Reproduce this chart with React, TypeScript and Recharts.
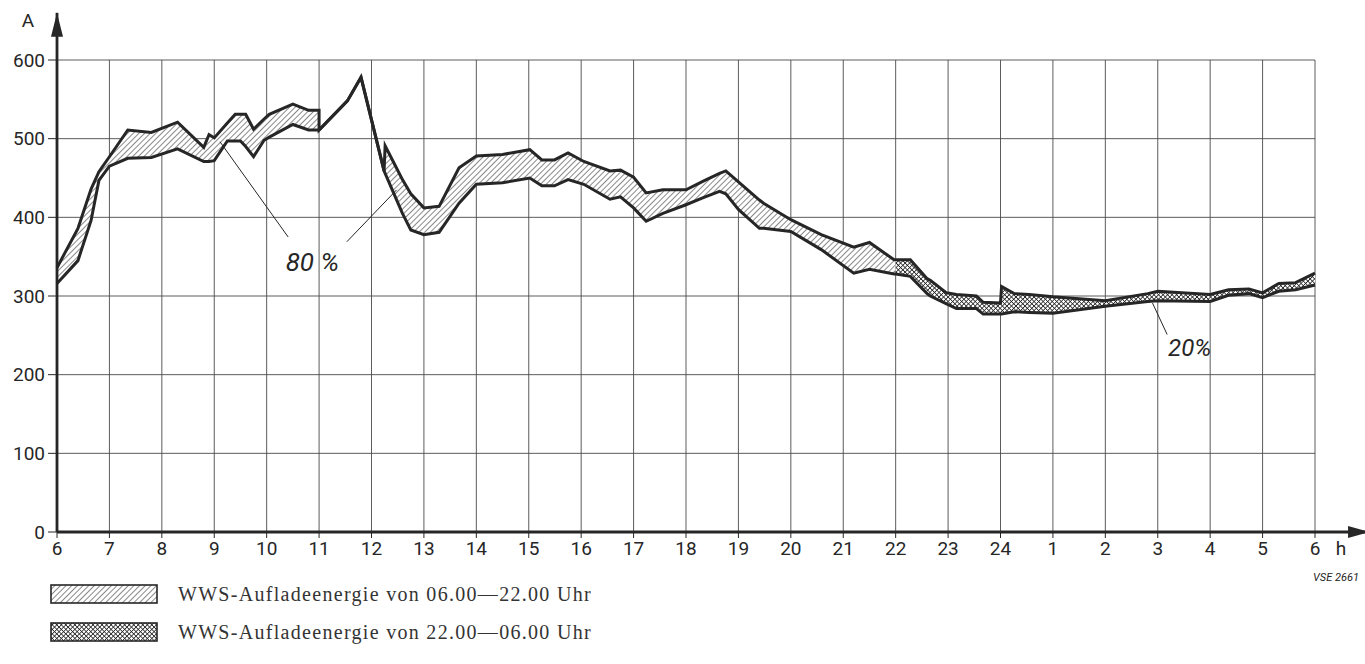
import React from "react";
import { Area, CartesianGrid, ComposedChart, Line, ReferenceDot, ReferenceLine, XAxis, YAxis } from "recharts";

// hours since 06:00 (30 = 06:00 next day)
const hours = [
  6.0, 6.4, 6.65, 6.8, 7.0, 7.35, 7.8, 8.3, 8.8, 8.9, 9.0, 9.25, 9.4, 9.5, 9.6, 9.75, 9.95, 10.05, 10.5, 10.8, 11.0, 11.0,
  11.54, 11.8, 12.24, 12.26, 12.46, 12.59, 12.75, 13.0, 13.29, 13.67, 14.0, 14.5, 15.02, 15.25, 15.49, 15.75, 16.05, 16.55,
  16.75, 17.0, 17.24, 17.56, 18.0, 18.33, 18.64, 18.76, 19.0, 19.4, 19.48, 20.0, 20.58, 21.2, 21.5, 21.97, 22.0, 22.28, 22.6,
  22.66, 22.97, 23.16, 23.54, 23.67, 24.0, 24.02, 24.26, 24.55, 25.0, 26.0, 26.81, 27.0, 28.0, 28.35, 28.74, 29.0, 29.31,
  29.63, 30.0,
];
// lower edge of the band (A)
const lower = [
  316, 345, 396, 447, 465, 475, 476, 487, 471, 471, 472, 497, 497, 497, 490, 477, 498, 502, 518, 511, 511, 511,
  548, 578, 459, 456, 425, 405, 384, 378, 381, 418, 442, 444, 450, 440, 440, 448, 442, 423,
  426, 412, 395, 405, 416, 425, 433, 430, 410, 386, 386, 382, 359, 329, 334, 328, 328, 325, 303,
  300, 290, 284, 284, 277, 277, 277, 280, 279, 278, 287, 293, 294, 293, 301, 303, 298, 306,
  308, 314,
];
// upper edge of the band (A)
const upper = [
  336, 386, 436, 458, 477, 511, 508, 521, 489, 505, 501, 520, 531, 531, 531, 512, 525, 531, 544, 536, 536, 511,
  548, 578, 459, 491, 465, 448, 430, 412, 414, 463, 478, 480, 486, 473, 473, 482, 471, 459,
  460, 451, 431, 435, 435, 446, 456, 459, 445, 422, 418, 397, 378, 362, 368, 346, 346, 346, 322,
  320, 304, 302, 300, 292, 291, 312, 303, 302, 299, 294, 303, 306, 302, 308, 309, 304, 316,
  317, 329,
];

const xTicks = [6, 7, 8, 9, 10, 11, 12, 13, 14, 15, 16, 17, 18, 19, 20, 21, 22, 23, 24, 25, 26, 27, 28, 29, 30];
const xLabels = ["6", "7", "8", "9", "10", "11", "12", "13", "14", "15", "16", "17", "18", "19", "20", "21", "22", "23", "24", "1", "2", "3", "4", "5", "6"];
const yTicks = [0, 100, 200, 300, 400, 500, 600];
const legendItems = ["WWS-Aufladeenergie von 06.00\u201422.00 Uhr", "WWS-Aufladeenergie von 22.00\u201406.00 Uhr"];

const ink = "#262626";
const tickFont = "Roboto, 'DejaVu Sans', sans-serif";

const rows = hours.map((t, i) => ({
  t,
  lo: lower[i],
  hi: upper[i],
  day: t <= 22 ? [lower[i], upper[i]] : null,
  night: t >= 22 ? [lower[i], upper[i]] : null,
}));

function Patterns({ prefix }: { prefix: string }) {
  return (
    <defs>
      <pattern id={prefix + "day"} width="4" height="4" patternUnits="userSpaceOnUse" patternTransform="rotate(45)">
        <rect width="4" height="4" fill="#fff" />
        <line x1="0" y1="0" x2="0" y2="4" stroke={ink} strokeWidth="1.1" />
      </pattern>
      <pattern id={prefix + "night"} width="3.2" height="3.2" patternUnits="userSpaceOnUse" patternTransform="rotate(45)">
        <rect width="3.2" height="3.2" fill="#fff" />
        <line x1="0" y1="0" x2="0" y2="3.2" stroke={ink} strokeWidth="1.6" />
        <line x1="0" y1="0" x2="3.2" y2="0" stroke={ink} strokeWidth="1.6" />
      </pattern>
    </defs>
  );
}

const XTick = (props: any) => {
  const { x, y, payload } = props;
  const idx = xTicks.indexOf(payload.value);
  return (
    <g>
      <text x={x} y={y} dy="0.71em" textAnchor="middle" fontSize={19} fontFamily={tickFont} fill={ink}>
        {xLabels[idx]}
      </text>
      {payload.value === 30 && (
        <text x={x + 26} y={y} dy="0.71em" textAnchor="middle" fontSize={19} fontFamily={tickFont} fill={ink}>
          h
        </text>
      )}
    </g>
  );
};

const arrowLine = (dir: "up" | "right") => (p: any) => {
  const { x1, y1, x2, y2 } = p;
  const head =
    dir === "up"
      ? `${x2},${y2} ${x2 - 6},${y2 + 24} ${x2 + 6},${y2 + 24}`
      : `${x2},${y2} ${x2 - 22},${y2 - 6} ${x2 - 22},${y2 + 6}`;
  return (
    <g>
      <line x1={x1} y1={y1} x2={x2} y2={y2} stroke={ink} strokeWidth={2.8} />
      <polygon points={head} fill={ink} />
    </g>
  );
};

const label = (text: string, size: number, italic: boolean, dx = 0) => (p: any) => (
  <text x={p.cx + dx} y={p.cy} dy="0.35em" textAnchor="middle" fontSize={size} fontStyle={italic ? "italic" : "normal"} fontFamily={tickFont} fill={ink}>
    {text}
  </text>
);

export default function App() {
  return (
    <div style={{ position: "absolute", left: 0, top: 0, width: 1365, height: 664, background: "#fff", overflow: "hidden" }}>
      <ComposedChart width={1365} height={580} data={rows} margin={{ top: 60, right: 50, left: 0, bottom: 18 }}>
        <Patterns prefix="c-" />
        <CartesianGrid stroke="#4a4a4a" strokeWidth={0.9} />
        <XAxis
          dataKey="t"
          type="number"
          domain={[6, 30]}
          ticks={xTicks}
          interval={0}
          height={30}
          tickSize={6}
          tickMargin={4}
          tick={XTick}
          axisLine={{ stroke: ink, strokeWidth: 2.8 }}
          tickLine={{ stroke: ink, strokeWidth: 1 }}
        />
        <YAxis
          domain={[0, 600]}
          ticks={yTicks}
          interval={0}
          width={57}
          tickSize={9}
          tickMargin={3}
          tick={{ fontSize: 19, fontFamily: tickFont, fill: ink }}
          axisLine={{ stroke: ink, strokeWidth: 2.8 }}
          tickLine={{ stroke: ink, strokeWidth: 1 }}
        />
        <Area dataKey="day" type="linear" fill="url(#c-day)" fillOpacity={1} stroke="none" isAnimationActive={false} />
        <Area dataKey="night" type="linear" fill="url(#c-night)" fillOpacity={1} stroke="none" isAnimationActive={false} />
        <Line dataKey="hi" type="linear" stroke={ink} strokeWidth={3} dot={false} isAnimationActive={false} />
        <Line dataKey="lo" type="linear" stroke={ink} strokeWidth={3} dot={false} isAnimationActive={false} />

        <ReferenceLine segment={[{ x: 6, y: 600 }, { x: 6, y: 660 }]} ifOverflow="visible" shape={arrowLine("up")} />
        <ReferenceLine segment={[{ x: 30, y: 0 }, { x: 31.05, y: 0 }]} ifOverflow="visible" shape={arrowLine("right")} />

        <ReferenceLine segment={[{ x: 9.11, y: 496 }, { x: 10.41, y: 375 }]} ifOverflow="visible" stroke={ink} strokeWidth={1} />
        <ReferenceLine segment={[{ x: 11.53, y: 369 }, { x: 12.48, y: 435 }]} ifOverflow="visible" stroke={ink} strokeWidth={1} />
        <ReferenceLine segment={[{ x: 26.9, y: 291 }, { x: 27.18, y: 251 }]} ifOverflow="visible" stroke={ink} strokeWidth={1} />

        <ReferenceDot x={10.87} y={343} r={0} ifOverflow="visible" shape={label("80 %", 26, true)} />
        <ReferenceDot x={27.61} y={234} r={0} ifOverflow="visible" shape={label("20%", 24, true)} />
        <ReferenceDot x={6} y={650} r={0} ifOverflow="visible" shape={label("A", 19, false, -29)} />
      </ComposedChart>

      <div style={{ position: "absolute", left: 1313, top: 571, fontFamily: tickFont, fontStyle: "italic", fontSize: 11, color: ink, whiteSpace: "nowrap" }}>
        VSE 2661
      </div>

      {legendItems.map((text, i) => (
        <div key={text} style={{ position: "absolute", left: 50, top: 584 + i * 38, height: 20, display: "flex", alignItems: "center" }}>
          <svg width={108} height={20}>
            <Patterns prefix={"l" + i + "-"} />
            <rect x={1} y={1} width={106} height={18} fill={`url(#l${i}-${i === 0 ? "day" : "night"})`} stroke={ink} strokeWidth={1.6} />
          </svg>
          <span style={{ marginLeft: 20, fontFamily: "'Liberation Serif', 'Times New Roman', serif", fontSize: 20, letterSpacing: 1.3, color: "#333", whiteSpace: "nowrap" }}>
            {text}
          </span>
        </div>
      ))}
    </div>
  );
}
